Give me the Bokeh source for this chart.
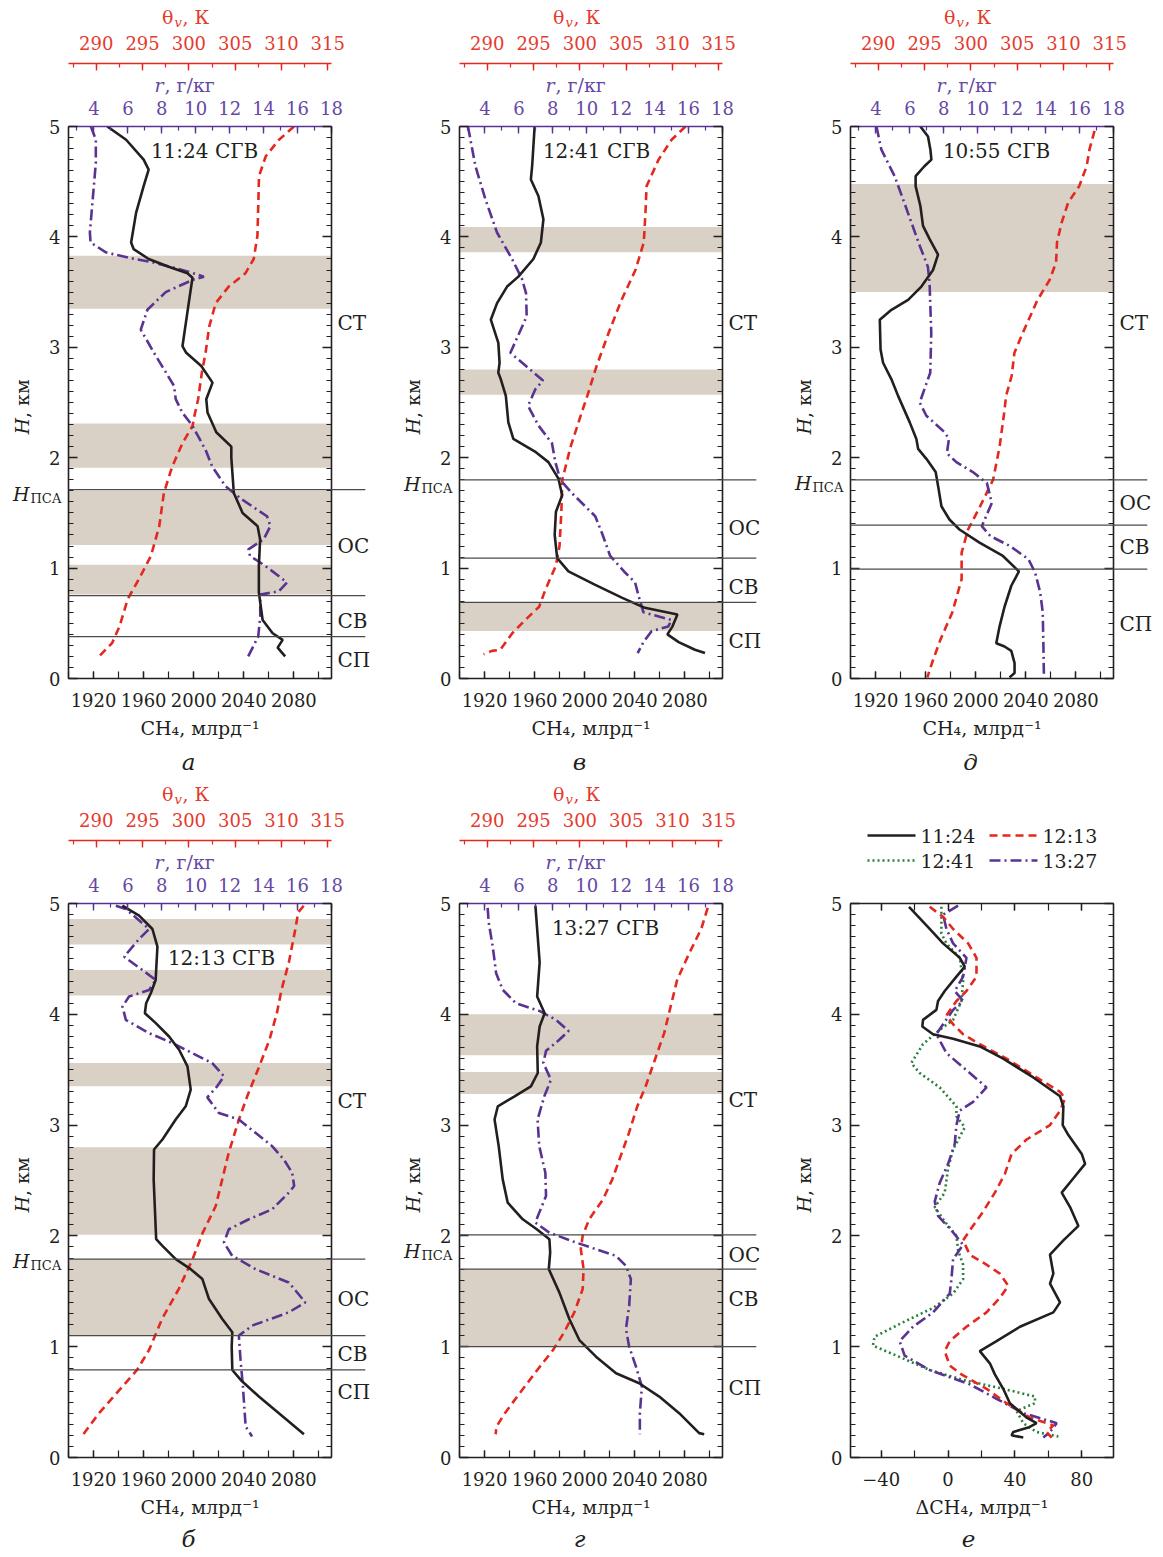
import math
from bokeh.plotting import figure
from bokeh.models import Range1d, LinearAxis, FixedTicker
from bokeh.layouts import column, row
from bokeh.core.properties import value
from bokeh.embed import file_html
from bokeh.resources import INLINE

FONT = "DejaVu Serif"
INK = "#231f20"
RED = "#e5281f"
RED_TXT = "#e53a2e"
PURPLE = "#5a3392"
PURPLE_TXT = "#6548a4"
GREEN = "#2a7f3a"
BAND = "#d9d1c5"
SPLIT = "#4a4a4a"

# ---------------- axes / ticks ----------------
ch4_range = [1900, 2110]
r_range = [2.5, 18]
th_range = [287, 315.4]
h_range = [0, 5]
dch4_range = [-58.4, 99]

ch4_ticks = [1920, 1960, 2000, 2040, 2080]
ch4_minor = [1900, 1920, 1940, 1960, 1980, 2000, 2020, 2040, 2060, 2080, 2100]
r_ticks = [4, 6, 8, 10, 12, 14, 16, 18]
r_minor = [3, 4, 5, 6, 7, 8, 9, 10, 11, 12, 13, 14, 15, 16, 17, 18]
th_ticks = [290, 295, 300, 305, 310, 315]
th_minor = [287.5, 290, 292.5, 295, 297.5, 300, 302.5, 305, 307.5, 310, 312.5, 315]
h_ticks = [0, 1, 2, 3, 4, 5]
h_minor = [i / 10 for i in range(51)]
dch4_ticks = [-40, 0, 40, 80]
dch4_minor = [-40, -20, 0, 20, 40, 60, 80]
layer_names = ["СТ", "ОС", "СВ", "СП"]

# ---------------- panel а (11:24) ----------------
a_ch4_h = [5.00, 4.88, 4.70, 4.61, 4.46, 4.22, 3.95, 3.89, 3.80, 3.73, 3.67, 3.63, 3.40, 3.01, 2.95, 2.83,
           2.68, 2.53, 2.41, 2.23, 2.10, 2.00, 1.68, 1.50, 1.38, 1.26, 1.02, 0.78, 0.53, 0.41, 0.35, 0.28, 0.20]
a_ch4 = [1931, 1946, 1960, 1964, 1960, 1954, 1950, 1952, 1964, 1980, 1995, 1999, 1996, 1991, 1994, 2006,
         2015, 2010, 2011, 2018, 2030, 2030, 2032, 2039, 2051, 2053, 2052, 2052, 2055, 2063, 2071, 2067, 2073]
a_r_h = [5.00, 4.88, 4.67, 4.31, 4.04, 3.95, 3.86, 3.81, 3.77, 3.70, 3.66, 3.64, 3.61, 3.50, 3.34, 3.16, 2.95,
         2.65, 2.53, 2.41, 2.29, 2.07, 1.92, 1.74, 1.62, 1.47, 1.38, 1.26, 1.17, 1.11, 1.02, 0.87, 0.79, 0.76,
         0.56, 0.38, 0.20]
a_r = [3.82, 4.11, 4.11, 3.91, 3.76, 3.80, 4.70, 6.07, 7.44, 9.20, 10.09, 10.48, 9.80, 8.23, 7.15, 6.76, 7.54,
       8.72, 8.82, 9.20, 9.80, 10.58, 10.97, 11.76, 12.74, 14.2, 14.4, 14.0, 13.1, 13.2, 14.1, 15.38, 14.9, 13.8,
       13.8, 13.68, 13.09]
a_th_h = [5.00, 4.88, 4.73, 4.55, 4.31, 4.01, 3.80, 3.67, 3.55, 3.40, 3.19, 2.95, 2.77, 2.53, 2.38, 2.29, 2.13,
          1.92, 1.68, 1.38, 1.11, 0.90, 0.72, 0.47, 0.32, 0.20]
a_th = [311.35, 309.73, 308.3, 307.57, 307.5, 307.4, 307.0, 306.1, 304.3, 302.9, 302.2, 301.8, 301.4, 301.0,
        300.6, 300.4, 299.3, 298.2, 297.3, 296.8, 295.9, 294.6, 293.4, 292.5, 291.7, 290.3]
a_band_lo = [3.35, 1.91, 1.21, 0.76]
a_band_hi = [3.83, 2.31, 1.70, 1.03]
a_splits = [1.71, 0.75, 0.38]
a_layer_h = [3.22, 1.20, 0.52, 0.17]
a_hpsa = 1.67

# ---------------- panel в (12:41) ----------------
v_ch4_h = [5.00, 4.64, 4.52, 4.37, 4.16, 3.95, 3.80, 3.64, 3.55, 3.40, 3.25, 3.04, 2.86, 2.77, 2.71, 2.56, 2.32,
           2.17, 2.05, 1.96, 1.81, 1.66, 1.51, 1.30, 1.09, 0.97, 0.85, 0.73, 0.64, 0.58, 0.47, 0.40, 0.33, 0.26, 0.23]
v_ch4 = [1960, 1958, 1957, 1963, 1967, 1965, 1959, 1947, 1938, 1930, 1925, 1931, 1932, 1931, 1933, 1937, 1939,
         1943, 1961, 1971, 1979, 1982, 1977, 1976, 1978, 1987, 2008, 2030, 2048, 2074, 2070, 2066, 2075, 2088, 2096]
v_r_h = [5.00, 4.64, 4.34, 4.04, 3.80, 3.62, 3.49, 3.28, 2.95, 2.83, 2.70, 2.62, 2.47, 2.29, 2.13, 1.96, 1.80,
         1.68, 1.56, 1.47, 1.32, 1.11, 0.96, 0.87, 0.75, 0.60, 0.53, 0.47, 0.43, 0.33, 0.23]
v_r = [3.0, 3.44, 4.03, 4.71, 5.6, 6.18, 6.42, 6.46, 5.5, 6.42, 7.42, 6.97, 6.54, 7.16, 7.95, 8.15, 8.44,
       9.12, 9.91, 10.5, 10.89, 11.38, 12.26, 12.85, 13.05, 13.34, 15.0, 14.8, 13.83, 13.34, 13.0]
v_th_h = [5.00, 4.88, 4.70, 4.46, 4.25, 3.95, 3.70, 3.43, 3.13, 2.83, 2.56, 2.41, 2.10, 1.80, 1.51, 1.20, 1.02,
          0.81, 0.65, 0.53, 0.41, 0.26, 0.25, 0.22]
v_th = [311.4, 309.9, 308.5, 307.2, 307.1, 306.9, 306.0, 304.5, 303.1, 301.8, 300.8, 300.2, 299.0, 298.1,
        298.0, 297.8, 297.4, 296.3, 295.6, 294.1, 292.7, 291.4, 290.5, 289.6]
v_band_lo = [3.86, 2.57, 0.43]
v_band_hi = [4.09, 2.80, 0.69]
v_splits = [1.80, 1.09, 0.69]
v_layer_h = [3.22, 1.36, 0.83, 0.34]
v_hpsa = 1.76

# ---------------- panel д (10:55) ----------------
d_ch4_h = [5.00, 4.91, 4.79, 4.70, 4.64, 4.55, 4.46, 4.28, 4.10, 3.98, 3.84, 3.70, 3.55, 3.43, 3.34, 3.25, 2.98,
           2.86, 2.71, 2.56, 2.32, 2.17, 2.08, 1.99, 1.87, 1.74, 1.56, 1.44, 1.35, 1.23, 1.11, 0.97, 0.84, 0.65,
           0.47, 0.32, 0.29, 0.25, 0.14, 0.05, 0.01]
d_ch4 = [1955.8, 1961.9, 1963.8, 1964.6, 1959, 1952, 1952, 1955.8, 1957.9, 1963.2, 1969.9, 1965.9, 1956.6,
         1946, 1932.7, 1923.4, 1924, 1926, 1932.7, 1938, 1947.3, 1952.6, 1954, 1960.6, 1968, 1970, 1972.6,
         1979, 1987, 2003, 2021.7, 2034.5, 2028.4, 2023, 2019, 2016.4, 2023, 2028.4, 2031, 2031, 2027]
d_r_h = [5.00, 4.79, 4.55, 4.34, 4.13, 3.92, 3.73, 3.58, 3.13, 2.77, 2.71, 2.50, 2.38, 2.23, 2.17, 2.04, 1.96,
         1.87, 1.77, 1.59, 1.38, 1.29, 1.20, 1.08, 0.96, 0.78, 0.60, 0.29, 0.01]
d_r = [4.03, 4.32, 5.1, 5.6, 6.09, 6.58, 7.06, 7.16, 7.26, 7.2, 7.06, 6.58, 6.97, 8.05, 8.3, 8.18, 8.74,
       9.71, 10.54, 10.83, 10.24, 10.74, 11.9, 12.99, 13.38, 13.68, 13.83, 13.87, 13.9]
d_th_h = [4.96, 4.79, 4.64, 4.46, 4.31, 4.13, 3.95, 3.77, 3.61, 3.43, 3.13, 2.95, 2.74, 2.56, 2.41, 2.10, 1.80,
          1.56, 1.35, 1.14, 0.90, 0.78, 0.60, 0.35, 0.14, 0.01]
d_th = [313.35, 312.8, 312.5, 311.7, 310.5, 309.8, 309.3, 309.2, 308.5, 307.2, 305.6, 304.7, 304.4, 303.8,
        303.6, 303.1, 302.4, 301.0, 299.7, 299.0, 299.0, 298.6, 298.0, 296.7, 295.8, 295.3]
d_band_lo = [3.50]
d_band_hi = [4.48]
d_splits = [1.80, 1.39, 0.99]
d_layer_h = [3.22, 1.59, 1.19, 0.49]
d_hpsa = 1.77

# ---------------- panel б (12:13) ----------------
b_ch4_h = [4.98, 4.89, 4.77, 4.61, 4.40, 4.31, 4.19, 4.10, 4.01, 3.92, 3.80, 3.68, 3.53, 3.32, 3.17, 3.05, 2.87,
           2.78, 2.51, 1.97, 1.91, 1.79, 1.70, 1.61, 1.43, 1.25, 1.13, 1.00, 0.79, 0.70, 0.55, 0.40, 0.21]
b_ch4 = [1943, 1956.4, 1967, 1971, 1970, 1969.6, 1965.7, 1962, 1961, 1969.7, 1980.3, 1988.3, 1995, 1997.6,
         1993.6, 1985.6, 1975, 1968.3, 1968, 1970, 1975, 1985.6, 1997.6, 2006.9, 2012.2, 2022.8, 2030.8, 2030.3,
         2030.8, 2037.5, 2052, 2068, 2088]
b_r_h = [4.98, 4.95, 4.77, 4.68, 4.52, 4.40, 4.31, 4.22, 4.16, 4.07, 3.95, 3.83, 3.74, 3.65, 3.56, 3.44, 3.35,
         3.25, 3.11, 3.05, 2.93, 2.81, 2.69, 2.57, 2.45, 2.39, 2.24, 2.15, 2.06, 1.94, 1.82, 1.70, 1.58, 1.40,
         1.31, 1.19, 1.10, 0.88, 0.64, 0.28, 0.19]
b_r = [5.29, 5.88, 7.25, 6.66, 5.78, 6.85, 7.64, 7.25, 6.07, 5.68, 5.88, 7.25, 8.62, 9.79, 10.97, 11.66, 11.26,
       10.68, 11.36, 12.54, 13.52, 14.5, 15.19, 15.68, 15.8, 15.48, 14.5, 13.13, 11.95, 11.66, 12.15, 13.52,
       15.48, 16.46, 15.48, 13.32, 12.54, 12.64, 12.78, 12.94, 13.32]
b_th_h = [4.98, 4.92, 4.77, 4.47, 4.22, 4.01, 3.77, 3.53, 3.26, 3.05, 2.75, 2.51, 2.27, 2.03, 1.79, 1.52, 1.25,
          0.97, 0.79, 0.61, 0.40, 0.21]
b_th = [312.4, 311.8, 311.5, 310.8, 310.0, 309.5, 308.7, 307.6, 306.3, 305.4, 304.3, 303.6, 302.9, 301.5,
        300.4, 298.9, 297.1, 295.7, 294.4, 292.5, 290.3, 288.6]
b_band_lo = [4.63, 4.17, 3.35, 2.01, 1.10]
b_band_hi = [4.86, 4.40, 3.56, 2.80, 1.79]
b_splits = [1.79, 1.10, 0.79]
b_layer_h = [3.22, 1.43, 0.93, 0.59]
b_hpsa = 1.77

# ---------------- panel г (13:27) ----------------
g_ch4_h = [4.98, 4.77, 4.47, 4.16, 4.01, 3.89, 3.71, 3.47, 3.35, 3.26, 3.17, 3.05, 2.81, 2.51, 2.30, 2.15, 2.06,
           1.97, 1.85, 1.70, 1.49, 1.25, 1.06, 0.91, 0.76, 0.67, 0.55, 0.40, 0.22, 0.21]
g_ch4 = [1960.6, 1962, 1964, 1962, 1968, 1964, 1962, 1962.5, 1957, 1944, 1930.6, 1928, 1931.3, 1934.5, 1938.5,
         1950.5, 1961.7, 1971.8, 1972.4, 1971.3, 1979.7, 1987.7, 1995.7, 2009, 2025, 2043.5, 2059.5, 2075.4,
         2091.4, 2095.4]
g_r_h = [4.96, 4.83, 4.61, 4.37, 4.22, 4.10, 4.03, 3.95, 3.85, 3.77, 3.67, 3.56, 3.41, 3.26, 3.05, 2.81, 2.57,
         2.36, 2.21, 2.12, 2.03, 1.94, 1.88, 1.82, 1.73, 1.61, 1.37, 1.16, 1.00, 0.82, 0.64, 0.40, 0.21]
g_r = [4.16, 4.22, 4.46, 4.66, 5.05, 5.83, 7.21, 8.19, 8.93, 8.38, 7.6, 7.44, 7.89, 7.5, 7.1, 7.2, 7.56,
       7.6, 7.2, 6.97, 7.79, 9.36, 10.54, 11.72, 12.31, 12.6, 12.5, 12.31, 12.5, 12.9, 13.25, 13.13, 13.13]
g_th_h = [4.96, 4.77, 4.55, 4.31, 4.07, 3.83, 3.59, 3.35, 3.17, 2.93, 2.72, 2.51, 2.33, 2.15, 2.00, 1.88, 1.70,
          1.52, 1.31, 1.13, 0.97, 0.79, 0.58, 0.40, 0.28, 0.21]
g_th = [313.8, 313.1, 311.8, 310.5, 309.8, 309.1, 308.1, 307.1, 306.2, 305.3, 304.4, 303.5, 302.5, 301.0,
        300.3, 300.1, 300.4, 300.3, 299.4, 298.3, 297.1, 295.4, 293.5, 291.9, 291.0, 290.9]
g_band_lo = [3.63, 3.28, 1.00]
g_band_hi = [4.00, 3.48, 1.70]
g_splits = [2.01, 1.70, 1.00]
g_layer_h = [3.23, 1.83, 1.43, 0.63]
g_hpsa = 1.86

# ---------------- panel е (ΔCH4) ----------------
e_labels = ["11:24", "12:13", "12:41", "13:27"]
e1124_h = [4.97, 4.90, 4.77, 4.64, 4.51, 4.43, 4.34, 4.21, 4.12, 4.04, 3.95, 3.89, 3.82, 3.78, 3.71, 3.60, 3.43,
           3.26, 3.17, 3.00, 2.91, 2.74, 2.65, 2.52, 2.39, 2.26, 2.09, 1.96, 1.83, 1.66, 1.57, 1.40, 1.31, 1.18,
           1.05, 0.96, 0.85, 0.75, 0.62, 0.49, 0.36, 0.31, 0.27, 0.23, 0.20, 0.18]
e1124 = [-23.4, -19, -11, -3, 7, 10, 5, -2, -6, -7, -15, -15.4, -9, 3, 19, 33, 51, 67, 69, 68.6, 72, 80, 82,
         75, 68, 73, 78, 69, 61, 63, 61, 67, 63, 43, 29, 19, 25, 28, 33, 37, 47, 53, 48, 39, 38, 45]
e1213_h = [4.97, 4.88, 4.77, 4.64, 4.51, 4.34, 4.21, 4.12, 3.99, 3.91, 3.82, 3.73, 3.60, 3.43, 3.30, 3.24, 3.13,
           3.00, 2.87, 2.74, 2.56, 2.39, 2.22, 2.05, 1.96, 1.83, 1.74, 1.66, 1.55, 1.44, 1.31, 1.18, 1.05, 0.96,
           0.83, 0.75, 0.62, 0.49, 0.36, 0.29, 0.23, 0.18]
e1213 = [-11, -3, 3, 12, 17, 17, 11, 5, -1, 3, 9, 19, 35, 53, 67, 70, 67, 61, 47, 38, 34, 28, 21, 13, 9, 13,
         23, 31, 36, 31, 23, 11, 1, -2, 1, 8, 23, 35, 49, 63, 59, 62]
e1241_h = [4.97, 4.73, 4.64, 4.51, 4.30, 4.12, 3.95, 3.86, 3.73, 3.56, 3.47, 3.34, 3.17, 3.08, 2.98, 2.78, 2.61,
           2.39, 2.26, 2.13, 2.00, 1.87, 1.74, 1.61, 1.48, 1.35, 1.22, 1.09, 1.01, 0.92, 0.79, 0.70, 0.62, 0.55,
           0.49, 0.42, 0.31, 0.23, 0.19]
e1241 = [-4, -4, -1, 7, 9, 8, 3, -5, -15, -22, -17, -5, 5, 5, 10, 3, 0, -2, -8, -2, 5, 6, 9, 9, 3, -9, -27,
         -44, -45, -31, -11, 9, 33, 52, 52, 41, 45, 53, 66]
e1327_h = [4.98, 4.90, 4.77, 4.64, 4.51, 4.34, 4.21, 4.12, 4.04, 3.91, 3.82, 3.65, 3.47, 3.34, 3.21, 3.13, 3.00,
           2.83, 2.65, 2.48, 2.31, 2.18, 2.05, 1.92, 1.79, 1.61, 1.48, 1.31, 1.18, 1.05, 0.92, 0.79, 0.66, 0.53,
           0.40, 0.31, 0.23, 0.18]
e1327 = [6, -3, -1, 3, 11, 9, 4, 9, 3, -3, -7, -1, 13, 23, 15, 7, 5, 4, 0, -5, -8, -6, 2, 9, 3, 2, 1, -9, -21,
         -29, -26, -11, 13, 29, 45, 65, 61, 57]

FW = 263
FH1 = 552
FH2 = 554
EPS = 1e-3
LEG_H = 88


def style_axis(ax, color, label_color=None, major_in=7, minor_in=4):
    ax.axis_line_color = color
    ax.axis_line_width = 1.6
    ax.major_tick_line_color = color
    ax.minor_tick_line_color = color
    ax.major_tick_line_width = 1.4
    ax.minor_tick_line_width = 1.2
    ax.major_tick_in = major_in
    ax.major_tick_out = 0
    ax.minor_tick_in = minor_in
    ax.minor_tick_out = 0
    ax.major_label_text_font = FONT
    ax.major_label_text_font_size = "18px"
    ax.major_label_text_color = label_color or color
    ax.axis_label_text_font = FONT
    ax.axis_label_text_font_style = "normal"
    ax.axis_label_text_font_size = "19px"
    ax.axis_label_text_color = label_color or color


def txt(p, text, x, y, size="19px", style="normal", color=INK, align="left", baseline="middle",
        dx=0, dy=0, angle=0.0):
    # dx > 0 moves right, dy > 0 moves up (screen pixels)
    p.text(x=[x], y=[y], text=[text], x_offset=dx, y_offset=-dy, angle=angle,
           text_font=value(FONT), text_font_size=value(size), text_font_style=value(style),
           text_color=color, text_align=value(align), text_baseline=value(baseline), level="overlay")


def base_figure(xr, fh, b_left, b_right, b_top, b_bottom, xticks, xminor, xlabel, overrides=None):
    p = figure(frame_width=FW, frame_height=fh, x_range=Range1d(*xr), y_range=Range1d(*h_range),
               x_axis_location=None, y_axis_location=None, output_backend="svg", toolbar_location=None,
               min_border_left=b_left, min_border_right=b_right, min_border_top=b_top,
               min_border_bottom=b_bottom)
    p.outline_line_color = None
    p.grid.visible = False
    p.background_fill_color = "white"
    p.border_fill_color = "white"

    xb = LinearAxis(ticker=FixedTicker(ticks=xticks, minor_ticks=xminor), axis_label=xlabel)
    style_axis(xb, INK, major_in=7, minor_in=7)
    xb.major_label_standoff = 14
    xb.axis_label_standoff = 7
    if overrides:
        xb.major_label_overrides = overrides
    p.add_layout(xb, "below")

    yl = LinearAxis(ticker=FixedTicker(ticks=h_ticks, minor_ticks=h_minor))
    style_axis(yl, INK, major_in=9, minor_in=5)
    yl.major_label_standoff = 8
    p.add_layout(yl, "left")

    yr = LinearAxis(ticker=FixedTicker(ticks=h_ticks, minor_ticks=h_minor))
    style_axis(yr, INK, major_in=9, minor_in=5)
    yr.major_label_text_color = None
    p.add_layout(yr, "right")

    # y-axis title  H, км
    x0 = xr[0] + EPS
    txt(p, "H", x0, 2.36, style="italic", align="right", dx=-47, angle=math.pi / 2)
    txt(p, ", км", x0, 2.36, align="left", dx=-47, angle=math.pi / 2)
    return p


def make_panel(letter, time_text, time_dx, time_dy, ch4_h, ch4, r_h, r, th_h, th,
               band_lo, band_hi, splits, layer_h, hpsa_h, fh, b_left, b_right, b_top, b_bottom, letter_dy):
    p = base_figure(ch4_range, fh, b_left, b_right, b_top, b_bottom, ch4_ticks, ch4_minor, "CH₄, млрд⁻¹")
    p.extra_x_ranges = {"r": Range1d(*r_range), "th": Range1d(*th_range)}
    x0, x1 = ch4_range

    p.quad(left=x0, right=x1, bottom=band_lo, top=band_hi, fill_color=BAND, line_color=None)
    p.segment(x0=x0, x1=x1 + 27, y0=splits, y1=splits, line_color=SPLIT, line_width=1.3, level="overlay")

    p.line(x=th, y=th_h, x_range_name="th", line_color=RED, line_width=2.6, line_dash="8 5")
    p.line(x=r, y=r_h, x_range_name="r", line_color=PURPLE, line_width=2.6, line_dash="11 4 2 4")
    p.line(x=ch4, y=ch4_h, line_color=INK, line_width=2.6)

    # top axes: r (at the frame), an invisible spacer, theta_v
    ra = LinearAxis(x_range_name="r", ticker=FixedTicker(ticks=r_ticks, minor_ticks=r_minor))
    style_axis(ra, PURPLE, PURPLE_TXT, major_in=7, minor_in=4)
    ra.major_label_standoff = 12
    p.add_layout(ra, "above")
    sp = LinearAxis(x_range_name="r", ticker=FixedTicker(ticks=[10], minor_ticks=[]))
    sp.axis_line_color = None
    sp.major_tick_line_color = None
    sp.minor_tick_line_color = None
    sp.major_tick_in = 0
    sp.major_tick_out = 34
    sp.minor_tick_out = 0
    sp.major_label_standoff = 0
    sp.major_label_text_font_size = "18px"
    sp.major_label_text_color = None
    p.add_layout(sp, "above")
    ta = LinearAxis(x_range_name="th", ticker=FixedTicker(ticks=th_ticks, minor_ticks=th_minor))
    style_axis(ta, RED, RED_TXT, major_in=7, minor_in=4)
    ta.major_label_standoff = 14
    p.add_layout(ta, "above")

    xa = x0 + EPS
    yt = 5 - EPS
    # axis titles
    txt(p, "r", xa, yt, style="italic", color=PURPLE_TXT, align="right", dx=95, dy=42)
    txt(p, ", г/кг", xa, yt, color=PURPLE_TXT, align="left", dx=96, dy=42)
    txt(p, "θ", xa, yt, color=RED_TXT, align="right", dx=105, dy=110)
    txt(p, "v", xa, yt, size="13px", style="italic", color=RED_TXT, align="left", dx=106, dy=104)
    txt(p, ", К", xa, yt, color=RED_TXT, align="left", dx=114, dy=110)

    # in-panel time label
    txt(p, time_text, xa, yt, size="20px", align="center", dx=time_dx, dy=-time_dy)

    # layer names right of the frame
    for name, h in zip(layer_names, layer_h):
        txt(p, name, x1 - EPS, h, size="20px", align="left", dx=6)

    # H_PSA label left of the frame
    txt(p, "H", xa, hpsa_h, style="italic", align="right", dx=-39)
    txt(p, "ПСА", xa, hpsa_h, size="13px", align="left", dx=-38, dy=-4)

    # panel letter
    txt(p, letter, xa, EPS, size="23px", style="italic", align="center", dx=120, dy=letter_dy)
    return p


# row 1: borders (left, right, top, bottom)
pa = make_panel("а", "11:24 СГВ", 136, 24, a_ch4_h, a_ch4, a_r_h, a_r, a_th_h, a_th,
                a_band_lo, a_band_hi, a_splits, a_layer_h, a_hpsa, FH1, 68, 67, 126, 106, -84)
pv = make_panel("в", "12:41 СГВ", 137, 24, v_ch4_h, v_ch4, v_r_h, v_r, v_th_h, v_th,
                v_band_lo, v_band_hi, v_splits, v_layer_h, v_hpsa, FH1, 61, 67, 126, 106, -84)
pd = make_panel("д", "10:55 СГВ", 146, 24, d_ch4_h, d_ch4, d_r_h, d_r, d_th_h, d_th,
                d_band_lo, d_band_hi, d_splits, d_layer_h, d_hpsa, FH1, 61, 41, 126, 106, -84)
# row 2
pb = make_panel("б", "12:13 СГВ", 153, 54, b_ch4_h, b_ch4, b_r_h, b_r, b_th_h, b_th,
                b_band_lo, b_band_hi, b_splits, b_layer_h, b_hpsa, FH2, 68, 67, 119, 96, -82)
pg = make_panel("г", "13:27 СГВ", 146, 24, g_ch4_h, g_ch4, g_r_h, g_r, g_th_h, g_th,
                g_band_lo, g_band_hi, g_splits, g_layer_h, g_hpsa, FH2, 61, 67, 119, 96, -82)

# ---------------- panel е ----------------
pe = base_figure(dch4_range, FH2, 61, 41, 119 - LEG_H, 96, dch4_ticks, dch4_minor, "ΔCH₄, млрд⁻¹",
                 overrides={-40: "−40"})
ta_e = LinearAxis(ticker=FixedTicker(ticks=dch4_ticks, minor_ticks=dch4_minor))
style_axis(ta_e, INK, major_in=7, minor_in=7)
ta_e.major_label_text_color = None
pe.add_layout(ta_e, "above")

e_styles = [dict(line_color=INK, line_dash="solid"),
            dict(line_color=RED, line_dash="8 5"),
            dict(line_color=GREEN, line_dash="2 3"),
            dict(line_color=PURPLE, line_dash="11 4 2 4")]
e_x = [e1124, e1213, e1241, e1327]
e_y = [e1124_h, e1213_h, e1241_h, e1327_h]
for k in [2, 3, 1, 0]:
    pe.line(x=e_x[k], y=e_y[k], line_width=2.6, **e_styles[k])
txt(pe, "е", dch4_range[0] + EPS, EPS, size="23px", style="italic", align="center", dx=118, dy=-82)

# legend of panel е: a strip figure above it whose frame lines up with the panel frame
# (units of the strip are pixels from the frame's left / bottom edge)
leg = figure(frame_width=FW, frame_height=LEG_H, x_range=Range1d(0, FW), y_range=Range1d(0, LEG_H),
             x_axis_location=None, y_axis_location=None, output_backend="svg", toolbar_location=None,
             min_border_left=61, min_border_right=41, min_border_top=0, min_border_bottom=0)
leg.outline_line_color = None
leg.grid.visible = False
leg.background_fill_color = "white"
leg.border_fill_color = "white"
leg_col_x = [17, 139, 17, 139]     # sample start of each legend entry
leg_row_y = [37, 37, 12, 12]       # centre line of each legend row
for k in range(4):
    leg.segment(x0=[leg_col_x[k]], x1=[leg_col_x[k] + 48], y0=[leg_row_y[k]], y1=[leg_row_y[k]],
                line_width=2.6, **e_styles[k])
    leg.text(x=[leg_col_x[k] + 53], y=[leg_row_y[k]], text=[e_labels[k]],
             text_font=value(FONT), text_font_size=value("19px"), text_color=INK,
             text_align=value("left"), text_baseline=value("middle"))

layout = column(row(pa, pv, pd), row(pb, pg, column(leg, pe)))
open("out.html", "w").write(file_html(layout, INLINE))
